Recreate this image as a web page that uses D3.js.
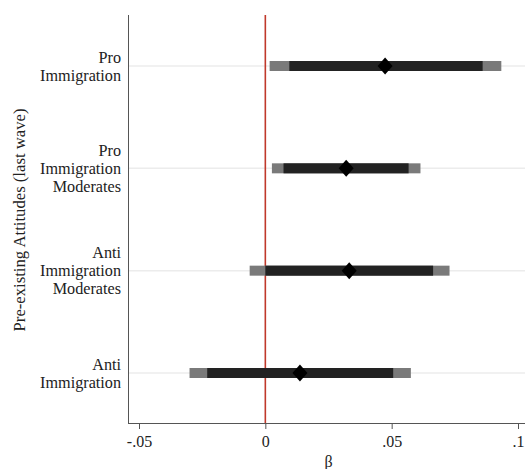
<!DOCTYPE html>
<html>
<head>
<meta charset="utf-8">
<script src="https://cdn.jsdelivr.net/npm/d3@7"></script>
<style>
  html, body { margin: 0; padding: 0; background: #fff; }
  svg { display: block; font-family: "Liberation Serif", "Times New Roman", serif; }
</style>
</head>
<body>
<svg id="chart" width="525" height="469"></svg>
<script>
// Coefficient estimates (β) with 90% and 95% confidence intervals by group
const groups = [
  ["Pro", "Immigration"],
  ["Pro", "Immigration", "Moderates"],
  ["Anti", "Immigration", "Moderates"],
  ["Anti", "Immigration"]
];
const estimates = [0.0474, 0.0320, 0.0332, 0.0137];
const ci90Low  = [0.0095, 0.0072, 0.0000, -0.0230];
const ci90High = [0.0860, 0.0567, 0.0664, 0.0506];
const ci95Low  = [0.0017, 0.0026, -0.0062, -0.0300];
const ci95High = [0.0934, 0.0614, 0.0729, 0.0576];
const xTicks = [-0.05, 0, 0.05, 0.1];
const xTickLabels = ["-.05", "0", ".05", ".1"];

const svg = d3.select("#chart");
const margin = { top: 15, right: 0, bottom: 46, left: 128 };
const W = 525, H = 469;

const x = d3.scaleLinear().domain([-0.05, 0.1]).range([139, 518]);
const y = d3.scalePoint().domain(d3.range(groups.length)).range([66, 373]);

// horizontal guide lines
svg.append("g").selectAll("line").data(groups).join("line")
  .attr("x1", margin.left).attr("x2", W)
  .attr("y1", (d, i) => y(i)).attr("y2", (d, i) => y(i))
  .attr("stroke", "#ececec").attr("stroke-width", 1.5);

// zero reference line
svg.append("line")
  .attr("x1", x(0)).attr("x2", x(0))
  .attr("y1", margin.top).attr("y2", H - margin.bottom)
  .attr("stroke", "#c0392b").attr("stroke-width", 1.6);

// 95% intervals
svg.append("g").selectAll("rect").data(groups).join("rect")
  .attr("x", (d, i) => x(ci95Low[i]))
  .attr("width", (d, i) => x(ci95High[i]) - x(ci95Low[i]))
  .attr("y", (d, i) => y(i) - 5).attr("height", 10)
  .attr("fill", "#7a7a7a");

// 90% intervals
svg.append("g").selectAll("rect").data(groups).join("rect")
  .attr("x", (d, i) => x(ci90Low[i]))
  .attr("width", (d, i) => x(ci90High[i]) - x(ci90Low[i]))
  .attr("y", (d, i) => y(i) - 5).attr("height", 10)
  .attr("fill", "#222");

// point estimates
svg.append("g").selectAll("path").data(groups).join("path")
  .attr("d", (d, i) => {
    const cx = x(estimates[i]), cy = y(i), w = 7.5, h = 8.5;
    return `M${cx},${cy - h}L${cx + w},${cy}L${cx},${cy + h}L${cx - w},${cy}Z`;
  })
  .attr("fill", "#000");

// x axis
const xAxis = d3.axisBottom(x).tickValues(xTicks)
  .tickFormat((d, i) => xTickLabels[i]).tickSize(6).tickPadding(7);
const gx = svg.append("g").attr("transform", `translate(0,${H - margin.bottom})`).call(xAxis);
gx.select(".domain").attr("d", `M${margin.left},0.5H${W}`).attr("stroke", "#555");
gx.selectAll(".tick line").attr("stroke", "#555");
gx.selectAll("text").attr("font-size", 16).attr("fill", "#222")
  .attr("font-family", "Liberation Serif, serif");

// y axis line
svg.append("line")
  .attr("x1", margin.left + 0.5).attr("x2", margin.left + 0.5)
  .attr("y1", margin.top).attr("y2", H - margin.bottom)
  .attr("stroke", "#555");

// category labels, one text per line
const lineH = 18;
svg.append("g").selectAll("g").data(groups).join("g")
  .each(function (d, i) {
    const n = d.length;
    d3.select(this).selectAll("text").data(d).join("text")
      .attr("text-anchor", "end")
      .attr("font-size", 16.2).attr("fill", "#222")
      .attr("x", 121)
      .attr("y", (line, k) => y(i) + (k - (n - 1) / 2) * lineH + 5.5)
      .text(line => line);
  });

// axis titles
svg.append("text")
  .attr("x", x(0.025)).attr("y", 467)
  .attr("text-anchor", "middle").attr("font-size", 16).attr("fill", "#222")
  .text("β");

svg.append("text")
  .attr("transform", `translate(25,220) rotate(-90)`)
  .attr("text-anchor", "middle").attr("font-size", 16.7).attr("fill", "#222")
  .text("Pre-existing Attitudes (last wave)");
</script>
</body>
</html>
